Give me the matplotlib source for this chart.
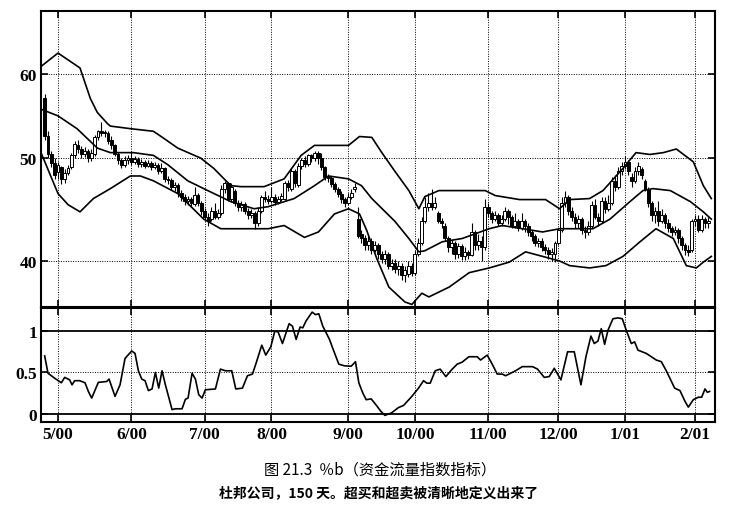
import matplotlib
matplotlib.use("Agg")
import matplotlib.pyplot as plt
from matplotlib.ticker import FixedLocator, FixedFormatter, NullLocator

plt.rcParams['font.family'] = ['Noto Sans CJK SC', 'DejaVu Sans']

# daily bars (trading-day index 0..199)
opens = [57.0, 52.5, 50.5, 49.5, 48.5, 49.0, 47.8, 48.4, 49.0, 50.3,
         51.5, 51.0, 50.4, 50.8, 50.0, 50.4, 52.4, 53.0, 52.8, 52.8,
         52.0, 51.4, 50.5, 49.8, 49.3, 49.8, 50.0, 49.6, 49.9, 49.4,
         49.6, 49.2, 49.5, 49.0, 49.3, 48.6, 48.9, 47.8, 47.7, 47.0,
         47.2, 46.4, 46.0, 45.6, 45.8, 45.3, 46.2, 45.4, 44.6, 44.0,
         43.8, 44.6, 44.0, 44.4, 46.8, 47.4, 45.8, 46.6, 45.4, 45.0,
         45.3, 44.6, 44.2, 44.4, 43.4, 44.6, 46.0, 45.8, 45.6, 46.0,
         45.5, 45.8, 45.8, 47.4, 46.8, 48.6, 47.2, 49.2, 49.8, 49.4,
         50.3, 50.0, 50.6, 50.0, 49.0, 48.0, 47.9, 47.3, 46.8, 46.3,
         45.8, 45.4, 46.0, 46.8, 43.8, 42.4, 42.0, 41.4, 41.8, 41.0,
         41.4, 40.6, 40.2, 40.6, 39.6, 39.8, 39.3, 39.6, 38.8, 38.9,
         39.6, 39.0, 40.6, 41.6, 43.6, 45.0, 45.4, 45.0, 44.4, 43.6,
         43.2, 42.0, 41.2, 41.6, 40.6, 41.3, 40.4, 40.8, 40.5, 42.6,
         41.4, 41.8, 41.2, 45.0, 44.4, 43.8, 44.2, 43.4, 43.8, 44.6,
         44.0, 43.2, 43.6, 43.0, 43.6, 43.2, 42.6, 42.2, 41.6, 41.8,
         41.2, 41.0, 40.6, 40.6, 41.6, 42.8, 45.4, 46.0, 44.6, 44.0,
         43.4, 43.8, 42.8, 42.6, 43.2, 45.2, 44.0, 43.6, 45.6, 44.8,
         45.4, 47.6, 47.0, 48.6, 49.2, 49.6, 48.0, 47.6, 48.6, 48.8,
         47.6, 46.8, 45.4, 44.2, 44.6, 43.6, 44.2, 43.4, 43.0, 42.6,
         42.8, 42.0, 41.4, 41.0, 41.0, 43.6, 43.8, 42.8, 43.8, 43.4]
closes = [52.5, 50.5, 49.5, 48.2, 49.3, 47.8, 48.4, 48.9, 50.3, 51.6,
          51.0, 50.4, 50.8, 50.0, 50.6, 52.4, 53.0, 52.8, 52.8, 51.9,
          51.4, 50.5, 49.8, 49.3, 49.8, 50.0, 49.6, 49.9, 49.4, 49.6,
          49.2, 49.5, 49.0, 49.3, 48.6, 48.9, 47.8, 47.7, 47.0, 47.2,
          46.4, 46.0, 45.6, 45.8, 45.4, 46.2, 45.4, 44.6, 44.0, 43.6,
          44.6, 44.0, 44.4, 46.8, 47.4, 45.8, 47.0, 45.4, 45.0, 45.3,
          44.6, 44.2, 44.4, 43.4, 44.6, 46.0, 45.8, 45.6, 46.0, 45.5,
          45.8, 46.1, 47.4, 47.0, 48.6, 47.4, 49.2, 49.8, 49.4, 50.3,
          50.0, 50.6, 50.0, 49.0, 48.0, 47.9, 47.3, 46.8, 46.3, 45.8,
          45.4, 46.0, 46.4, 47.0, 42.2, 42.0, 41.4, 41.8, 41.0, 41.4,
          40.6, 40.2, 40.6, 39.6, 39.8, 39.3, 39.6, 38.8, 39.2, 39.6,
          39.0, 40.6, 41.6, 43.6, 45.0, 45.4, 45.0, 45.4, 43.6, 43.4,
          42.0, 41.2, 41.6, 40.6, 41.3, 40.4, 40.8, 40.5, 42.6, 41.4,
          41.8, 41.2, 45.0, 44.4, 43.8, 44.2, 43.4, 43.8, 44.6, 44.0,
          43.2, 43.6, 43.0, 43.6, 43.2, 42.6, 42.2, 41.6, 41.8, 41.2,
          41.0, 40.6, 40.8, 41.6, 42.8, 45.4, 46.0, 44.6, 44.0, 43.4,
          43.8, 42.8, 42.6, 43.2, 45.2, 44.0, 43.6, 45.6, 44.8, 45.4,
          47.6, 47.0, 48.6, 49.2, 49.6, 48.6, 47.6, 48.6, 49.2, 48.2,
          46.8, 45.4, 44.2, 44.6, 43.6, 44.2, 43.4, 43.0, 42.6, 42.8,
          42.0, 41.4, 41.0, 40.8, 43.6, 43.8, 42.8, 43.8, 43.4, 43.6]
highs = [57.5, 53.0, 50.8, 50.0, 49.6, 49.2, 48.8, 49.3, 50.6, 51.9,
         52.0, 51.3, 51.2, 51.0, 51.0, 52.6, 53.2, 54.1, 53.2, 53.0,
         52.5, 51.6, 50.7, 50.0, 50.2, 50.3, 50.7, 50.2, 50.1, 49.9,
         49.8, 49.8, 49.7, 49.6, 49.5, 49.5, 49.0, 48.1, 47.9, 47.5,
         47.4, 46.7, 46.3, 46.1, 46.0, 47.0, 46.4, 45.6, 44.9, 44.4,
         45.0, 45.4, 44.8, 47.2, 47.6, 47.5, 47.4, 46.8, 45.7, 45.6,
         45.5, 44.9, 44.8, 44.6, 45.0, 46.2, 46.6, 46.2, 47.0, 46.3,
         46.1, 46.4, 47.6, 47.7, 48.9, 48.8, 49.5, 50.0, 50.2, 50.5,
         50.5, 50.8, 50.8, 50.6, 49.2, 48.3, 48.1, 47.5, 47.0, 46.6,
         46.0, 46.4, 46.8, 47.4, 45.0, 42.8, 42.3, 42.2, 42.0, 41.8,
         41.6, 40.9, 41.0, 40.8, 40.2, 40.2, 40.0, 39.8, 39.6, 40.0,
         39.8, 41.0, 42.0, 44.0, 46.0, 46.4, 46.8, 46.0, 44.6, 43.9,
         43.4, 42.2, 41.9, 41.8, 41.6, 41.5, 41.2, 41.0, 43.4, 42.8,
         42.4, 42.2, 45.8, 45.4, 44.6, 44.6, 44.4, 44.2, 45.0, 44.8,
         44.2, 44.4, 43.8, 44.4, 43.8, 43.4, 42.8, 42.4, 42.0, 42.0,
         41.5, 41.2, 41.1, 41.8, 43.0, 46.0, 46.6, 46.2, 45.0, 44.4,
         44.2, 44.0, 43.2, 43.6, 45.6, 45.8, 44.4, 46.0, 46.0, 46.2,
         48.0, 48.2, 49.0, 49.6, 50.2, 49.8, 48.4, 49.0, 49.6, 49.0,
         47.8, 47.0, 45.6, 45.0, 45.6, 44.8, 44.4, 43.8, 43.2, 43.2,
         43.0, 42.2, 41.6, 41.4, 43.8, 44.2, 44.2, 44.2, 44.0, 44.0]
lows = [52.0, 50.0, 49.0, 47.8, 47.8, 47.3, 47.4, 48.2, 48.8, 50.0,
        50.6, 50.0, 50.1, 49.6, 49.7, 50.2, 52.0, 52.5, 52.3, 51.6,
        51.0, 50.2, 49.4, 48.9, 49.0, 49.4, 49.3, 49.4, 49.0, 49.1,
        48.9, 49.0, 48.7, 48.8, 48.3, 48.4, 47.5, 47.3, 46.7, 46.6,
        46.0, 45.6, 45.2, 45.2, 45.0, 45.1, 45.1, 44.2, 43.6, 43.2,
        43.6, 43.8, 43.8, 44.2, 46.4, 45.6, 45.5, 45.1, 44.6, 44.6,
        44.3, 43.8, 43.9, 42.9, 43.2, 44.4, 45.5, 45.3, 45.4, 45.2,
        45.3, 45.6, 45.7, 46.6, 46.6, 47.0, 47.0, 48.8, 49.0, 49.2,
        49.6, 49.7, 49.4, 48.7, 47.7, 47.5, 47.0, 46.5, 46.0, 45.4,
        45.0, 45.2, 45.8, 46.5, 42.0, 41.6, 41.0, 41.0, 40.6, 40.8,
        40.2, 39.8, 39.7, 39.3, 39.2, 39.0, 38.8, 38.4, 38.2, 38.6,
        38.7, 38.8, 40.4, 41.4, 43.4, 44.6, 44.7, 44.8, 43.4, 43.0,
        41.8, 40.8, 40.6, 40.2, 40.3, 40.1, 40.1, 40.2, 40.4, 41.0,
        41.0, 40.0, 41.0, 44.0, 43.4, 43.6, 43.2, 43.2, 43.6, 43.3,
        43.0, 43.0, 42.7, 42.8, 42.6, 42.2, 41.8, 41.3, 41.2, 40.9,
        40.6, 40.2, 40.0, 39.9, 41.4, 42.6, 45.0, 44.2, 43.6, 43.0,
        43.0, 42.4, 42.0, 42.3, 43.0, 43.8, 43.2, 43.4, 44.4, 44.6,
        45.2, 46.6, 46.8, 48.2, 48.8, 48.2, 47.0, 47.4, 48.2, 47.8,
        46.6, 45.0, 43.6, 43.4, 43.2, 43.4, 43.0, 42.6, 42.2, 42.3,
        41.6, 41.0, 40.5, 40.4, 40.8, 43.2, 42.6, 42.6, 43.0, 43.0]

# Bollinger bands (day index, price)
upper_x = [-1.1, 4.0, 10.6, 13.7, 15.8, 18.8, 19.7, 25.7, 32.6, 35.7, 39.9,
           46.8, 50.7, 55.8, 58.9, 65.8, 71.8, 76.9, 80.9, 91.1, 94.4, 98.1,
           101.1, 105.0, 109.2, 112.2, 114.0, 118.2, 125.2, 132.1, 135.1,
           142.4, 150.2, 154.4, 157.4, 163.4, 167.4, 173.4, 177.3, 181.5,
           185.5, 189.4, 194.5, 197.5, 199.9]
upper_y = [61.0, 62.8, 60.8, 56.9, 55.2, 53.9, 53.6, 53.3, 53.0, 52.2, 51.1,
           50.0, 48.9, 47.1, 47.0, 47.0, 47.8, 50.3, 51.4, 51.4, 52.4, 52.3,
           50.6, 48.6, 46.6, 44.8, 46.0, 46.6, 46.6, 46.6, 46.1,
           45.7, 45.7, 44.8, 45.7, 45.8, 46.6, 48.9, 50.6, 50.4,
           50.6, 51.0, 49.6, 47.1, 45.8]
middle_x = [-1.1, 4.0, 9.7, 15.8, 19.7, 26.6, 32.6, 36.9, 42.9, 48.9, 55.8,
            62.8, 67.0, 74.8, 80.9, 85.1, 91.1, 95.0, 98.1, 105.0, 109.2,
            112.2, 114.0, 119.2, 125.2, 133.3, 137.2, 143.3, 149.3, 154.4,
            164.4, 169.5, 175.5, 179.4, 182.4, 187.6, 193.6, 197.5, 199.9]
middle_y = [55.6, 54.8, 53.3, 51.1, 50.6, 50.6, 50.3, 49.3, 47.6, 46.6, 45.5,
            44.8, 45.0, 45.8, 47.1, 48.1, 47.8, 47.1, 45.8, 43.6, 42.0,
            40.8, 40.9, 41.7, 42.0, 42.9, 43.2, 42.9, 42.6, 42.9,
            42.9, 43.8, 45.5, 46.6, 46.8, 46.6, 45.5, 44.5, 43.8]
lower_x = [-1.1, 4.0, 7.0, 10.6, 14.6, 19.7, 25.7, 28.7, 32.6, 39.9, 47.7,
           52.8, 61.0, 67.0, 71.8, 77.9, 82.1, 86.9, 91.1, 94.4, 96.5, 99.6,
           103.2, 108.0, 110.1, 113.1, 115.2, 121.3, 127.3, 133.3, 139.3,
           144.2, 149.3, 154.4, 157.4, 163.4, 168.3, 173.4, 178.5, 183.3,
           188.5, 192.4, 195.4, 197.5, 199.9]
lower_y = [50.6, 46.3, 45.2, 44.5, 45.8, 46.8, 48.1, 48.1, 47.6, 46.3, 43.8,
           42.9, 42.9, 42.9, 43.2, 42.1, 42.6, 44.3, 44.8, 44.3, 42.8, 40.2,
           37.8, 36.6, 36.4, 37.3, 37.0, 37.8, 39.0, 39.4, 39.9,
           40.8, 40.4, 40.0, 39.6, 39.4, 39.6, 40.4, 41.7, 42.9,
           42.0, 39.6, 39.4, 39.9, 40.4]

# %b indicator (day index, value)
pctb_x = [0, 1, 3.0, 5.0, 6.0, 7.5, 8.2, 9.0, 10.5, 12.1, 13.1, 14.1, 16.1,
          18.6, 19.3, 21.1, 22.6, 24.1, 26.1, 27.1, 28.1, 29.1, 30.1, 31.1,
          32.2, 33.2, 34.2, 35.2, 36.2, 38.2, 39.2, 41.2, 42.2, 43.0, 44.2,
          45.2, 46.2, 47.2, 48.2, 51.2, 52.7, 54.2, 56.1, 57.3, 59.3, 60.8,
          62.3, 63.3, 65.1, 66.3, 67.8, 69.0, 70.0, 71.3, 73.3, 74.3, 75.4,
          76.6, 77.4, 78.4, 80.2, 81.2, 82.2, 83.4, 85.4, 86.4, 88.2, 89.9,
          91.9, 93.2, 94.2, 95.4, 96.4, 97.9, 99.5, 100.8, 102.0, 104.0,
          106.1, 107.6, 110.1, 112.1, 113.6, 114.6, 115.6, 117.1, 118.6,
          120.3, 122.2, 123.7, 125.2, 127.2, 129.7, 130.7, 132.7, 134.2,
          135.7, 137.2, 138.2, 141.2, 143.2, 146.3, 147.8, 149.8, 151.3,
          152.8, 154.8, 156.8, 158.8, 160.8, 162.3, 163.8, 164.8, 165.9,
          166.9, 167.9, 168.9, 170.4, 171.9, 173.2, 174.4, 175.9, 176.9,
          177.9, 180.4, 183.4, 184.9, 186.4, 188.9, 190.5, 192.0, 193.0,
          194.5, 196.0, 197.0, 198.0, 198.7, 199.4]
pctb_y = [0.70, 0.49, 0.43, 0.375, 0.44, 0.41, 0.35, 0.40, 0.40, 0.375, 0.27,
          0.19, 0.38, 0.39, 0.42, 0.21, 0.35, 0.67, 0.76, 0.73, 0.52, 0.42,
          0.40, 0.28, 0.30, 0.50, 0.31, 0.52, 0.35, 0.05, 0.06, 0.06, 0.175,
          0.19, 0.49, 0.42, 0.23, 0.19, 0.29, 0.30, 0.54, 0.52, 0.52, 0.30,
          0.31, 0.46, 0.48, 0.60, 0.83, 0.71, 0.81, 1.00, 0.99, 0.85, 1.09,
          1.06, 0.90, 1.05, 1.04, 1.125, 1.23, 1.20, 1.21, 1.06, 0.90, 0.79,
          0.60, 0.58, 0.575, 0.63, 0.375, 0.25, 0.17, 0.18, 0.10, 0.03,
          -0.02, 0.01, 0.075, 0.10, 0.21, 0.31, 0.40, 0.37, 0.37, 0.52,
          0.54, 0.45, 0.54, 0.60, 0.625, 0.69, 0.69, 0.65, 0.71, 0.60, 0.48,
          0.48, 0.46, 0.52, 0.57, 0.57, 0.54, 0.44, 0.45, 0.55, 0.41, 0.75,
          0.75, 0.35, 0.69, 0.94, 0.85, 0.88, 1.03, 0.84, 1.01, 1.15, 1.16,
          1.15, 1.01, 0.85, 0.87, 0.77, 0.73, 0.65, 0.63, 0.52, 0.31, 0.28,
          0.15, 0.08, 0.17, 0.20, 0.20, 0.30, 0.26, 0.27]

month_idx = [4, 26, 48, 68, 91, 111, 133, 154, 174, 195]
month_labels = ['5/00', '6/00', '7/00', '8/00', '9/00', '10/00', '11/00',
                '12/00', '1/01', '2/01']

fig = plt.figure(figsize=(7.29, 5.10), dpi=100)
ax1 = fig.add_axes([41/729, 1-308/510, 674/729, 296/510])
ax2 = fig.add_axes([41/729, 1-423/510, 674/729, 114/510])

# candlesticks
days = list(range(len(closes)))
ax1.vlines(days, lows, highs, color='black', lw=0.8, zorder=3)
body_bottom = [min(o, c) for o, c in zip(opens, closes)]
body_height = [max(abs(c - o), 0.08) for o, c in zip(opens, closes)]
body_color = ['white' if c >= o else 'black' for o, c in zip(opens, closes)]
ax1.bar(days, body_height, bottom=body_bottom, width=0.85, color=body_color,
        edgecolor='black', linewidth=0.7, zorder=4)

for bx, by in [(upper_x, upper_y), (middle_x, middle_y), (lower_x, lower_y)]:
    ax1.plot(bx, by, color='black', lw=1.2, zorder=5)

ax1.set_yscale('log')
ax1.set_ylim(36.2, 68.8)
ax1.set_xlim(-1.1, 201)
ax1.yaxis.set_major_locator(FixedLocator([40, 50, 60]))
ax1.yaxis.set_major_formatter(FixedFormatter(['40', '50', '60']))
ax1.yaxis.set_minor_locator(NullLocator())
ax1.set_xticks(month_idx)
ax1.set_xticklabels([])
ax1.grid(True, color='black', linestyle=(0, (1, 1.5)), lw=0.7)

# %b panel
ax2.plot(pctb_x, pctb_y, color='black', lw=1.2)
ax2.axhline(1, color='black', lw=1.3)
ax2.axhline(0, color='black', lw=1.3)
ax2.axhline(0.5, color='black', linestyle=(0, (1, 1.5)), lw=0.7)
ax2.set_xlim(-1.1, 201)
ax2.set_ylim(-0.1, 1.28)
ax2.set_yticks([0, 0.5, 1])
ax2.set_yticklabels(['0', '0.5', '1'])
ax2.set_xticks(month_idx)
ax2.set_xticklabels(month_labels)
ax2.grid(True, axis='x', color='black', linestyle=(0, (1, 1.5)), lw=0.7)

for ax in (ax1, ax2):
    ax.tick_params(direction='in', top=True, right=True, length=5,
                   width=1.2, pad=3)
    for lab in ax.get_xticklabels() + ax.get_yticklabels():
        lab.set_fontfamily('Liberation Serif')
        lab.set_fontweight('bold')
        lab.set_fontsize(12.5)
    for sp in ax.spines.values():
        sp.set_linewidth(1.5)

fig.text(0.521, 1-470/510, '图 21.3  ％b（资金流量指数指标）', ha='center',
         va='center', fontsize=11)
fig.text(0.519, 1-493/510, '杜邦公司，150 天。超买和超卖被清晰地定义出来了',
         ha='center', va='center', fontsize=10, fontweight='bold')

fig.savefig('out.png', dpi=100)
